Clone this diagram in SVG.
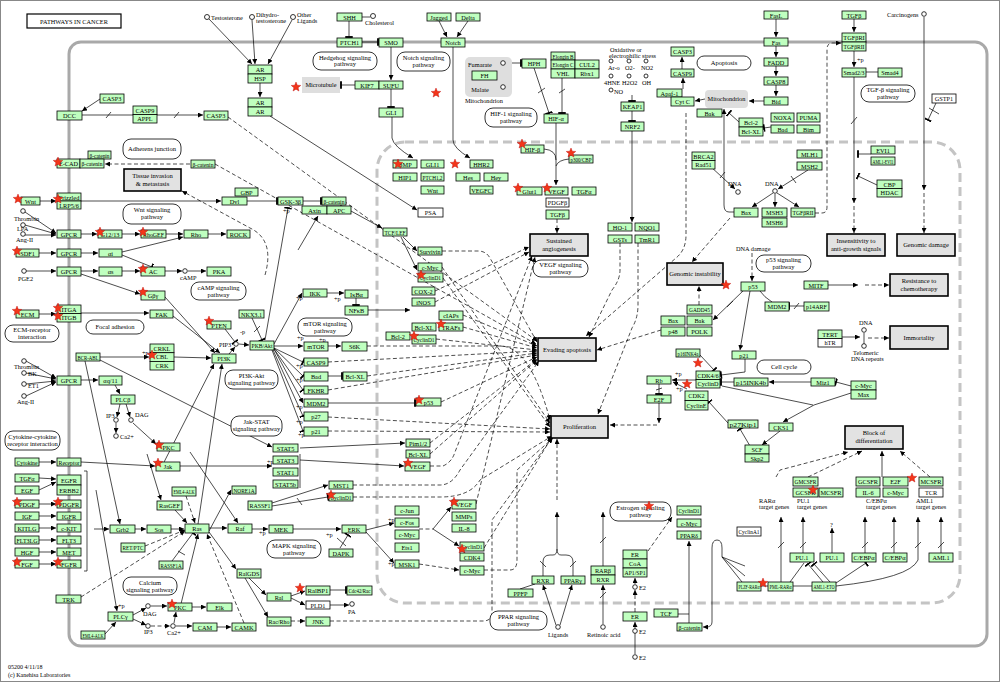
<svg xmlns="http://www.w3.org/2000/svg" width="1000" height="682" viewBox="0 0 1000 682">
<defs>
<marker id="a" viewBox="0 0 10 10" refX="10" refY="5" markerWidth="5" markerHeight="5" markerUnits="userSpaceOnUse" orient="auto"><path d="M0,0L10,5L0,10z" fill="#000"/></marker>
<marker id="t" viewBox="0 0 4 10" refX="3" refY="5" markerWidth="3" markerHeight="7.5" markerUnits="userSpaceOnUse" orient="auto"><path d="M3,0V10" stroke="#000" stroke-width="2.5"/></marker>
<path id="s" d="M0,-5L1.29,-1.78L4.76,-1.55L2.09,0.68L2.94,4.05L0,2.2L-2.94,4.05L-2.09,0.68L-4.76,-1.55L-1.29,-1.78Z" fill="#f2361a" stroke="#b00" stroke-width="0.4"/>
</defs>
<style>
text{font-family:"Liberation Serif","DejaVu Serif",serif;font-size:6.3px;fill:#000}
.n rect{fill:#bfffbf;stroke:#000;stroke-width:0.8}
.w rect{fill:#fff;stroke:#000;stroke-width:0.8}
.n text,.w text,.ph text,.pw text,.gr text{text-anchor:middle}
.ph rect{fill:#e2e2e2;stroke:#000;stroke-width:1.6}
.ph text,.pw text{font-size:6.5px}
.pw rect{fill:#fff;stroke:#000;stroke-width:0.8}
.gr rect{fill:#dedede;stroke:none}
.e path{fill:none;stroke:#000;stroke-width:0.7}
.e .d{stroke-dasharray:4 2.5}
.c{fill:#fff;stroke:#000;stroke-width:0.8}
.lb{font-size:6px}
</style>
<rect x="0" y="0" width="1000" height="682" fill="#fff"/>
<rect x="0.5" y="0.5" width="999" height="681" fill="none" stroke="#888" stroke-width="1"/>
<g id="compartments">
<rect x="69" y="42" width="918" height="604" rx="12" fill="none" stroke="#a9a9a9" stroke-width="3"/>
<rect x="377" y="142" width="583" height="461" rx="28" fill="none" stroke="#c4c4c4" stroke-width="3" stroke-dasharray="9 5"/>
</g>
<g id="title"><rect x="27" y="14" width="94" height="14" fill="#fff" stroke="#000" stroke-width="1.2"/><text x="74" y="24" text-anchor="middle" font-size="7">PATHWAYS IN CANCER</text></g>

<g id="edges" class="e">
<path d="M209,19L252,64" marker-end="url(#a)"/>
<path d="M252,20L255,64" marker-end="url(#a)"/>
<path d="M292,20L268,64" marker-end="url(#a)"/>
<path d="M260,83L260,97" marker-end="url(#a)"/>
<path d="M270,116L417,210" marker-end="url(#a)"/>
<path d="M349,21L349,37" marker-end="url(#t)"/>
<path d="M362,17L370,17"/>
<path d="M362,42L378,42" marker-end="url(#t)"/>
<path d="M391,47L391,80" marker-end="url(#a)"/>
<path d="M391,89L391,107" marker-end="url(#t)"/>
<path d="M355,85L341,85" marker-end="url(#t)"/>
<path d="M392,117L392,138Q393,146 413,158" marker-end="url(#a)"/>
<path d="M439,21L447,37" marker-end="url(#a)"/>
<path d="M468,21L457,37" marker-end="url(#a)"/>
<path d="M453,47L453,140Q453,148 470,158" marker-end="url(#a)"/>
<path d="M505,63L521,63" marker-end="url(#t)"/>
<path d="M503,66L503,84" marker-end="url(#a)"/>
<path d="M534,68L549,113" marker-end="url(#t)"/>
<path d="M538,93L545,88"/>
<path d="M562,78L562,113" marker-end="url(#t)"/>
<path d="M559,93L565,89"/>
<path d="M556,123L556,185" marker-end="url(#a)"/>
<path d="M544,149Q556,150 556,160"/>
<path d="M569,159Q558,160 556,166"/>
<path d="M632,95L632,101" marker-end="url(#t)"/>
<path d="M632,111L632,121" marker-end="url(#t)"/>
<path d="M632,131L632,222" marker-end="url(#a)"/>
<path d="M683,89L683,78" marker-end="url(#a)"/>
<path d="M682,69L682,57" marker-end="url(#a)"/>
<path d="M705,99L695,101" marker-end="url(#a)"/>
<path d="M776,19L776,37" marker-end="url(#a)"/>
<path d="M776,46L776,57" marker-end="url(#a)"/>
<path d="M776,66L776,76" marker-end="url(#a)"/>
<path d="M776,85L776,96" marker-end="url(#a)"/>
<path d="M764,101L749,101" marker-end="url(#a)"/>
<path d="M771,127L764,128" marker-end="url(#t)"/>
<path d="M734,212L729,212Q724,212 724,205L724,109" marker-end="url(#a)"/>
<path d="M739,122L729,113" marker-end="url(#t)"/>
<path d="M854,19L854,32" marker-end="url(#a)"/>
<path d="M854,51L854,67" marker-end="url(#a)"/>
<path d="M866,72L878,72"/>
<path d="M854,77L854,203" marker-end="url(#a)"/>
<path class="d" d="M854,206L854,233" marker-end="url(#a)"/>
<path d="M851,124L857,117"/>
<path d="M871,154L858,154" marker-end="url(#t)"/>
<path d="M877,185L858,176" marker-end="url(#t)"/>
<path d="M924,17L924,190" marker-end="url(#a)"/>
<path class="d" d="M924,193L924,233" marker-end="url(#a)"/>
<path d="M936,103L928,120" marker-end="url(#t)"/>
<path d="M929,108L939,114"/>
<path d="M808,170L778,189" marker-end="url(#a)"/>
<path d="M791,176L796,183"/>
<path d="M773,193L752,207" marker-end="url(#a)"/>
<path d="M775,194L775,207" marker-end="url(#a)"/>
<path d="M777,193L799,207" marker-end="url(#a)"/>
<path d="M710,166L735,189" marker-end="url(#a)"/>
<path d="M720,178L725,172"/>
<path class="d" d="M815,213L822,213Q827,213 827,207L827,49Q827,43 833,43L841,43" marker-end="url(#a)"/>
<path d="M100,99L82,111" marker-end="url(#a)"/>
<path d="M81,115L203,115" marker-end="url(#a)"/>
<path d="M106,118L111,112M174,118L179,112"/>
<path class="d" d="M190,164L105,164" marker-end="url(#a)"/>
<path class="d" d="M228,117L537,341" marker-end="url(#a)"/>
<path class="d" d="M215,164L536,344" marker-end="url(#a)"/>
<path class="d" d="M265,275Q275,240 250,228L182,191" marker-end="url(#a)"/>
<path d="M39,201L56,201" marker-end="url(#a)"/>
<path d="M81,201L221,201" marker-end="url(#a)"/>
<path d="M247,201L277,201" marker-end="url(#t)"/>
<path d="M303,201L321,201" marker-end="url(#t)"/>
<path d="M340,205L382,228" marker-end="url(#a)"/>
<path d="M265,340L288,208" marker-end="url(#t)"/>
<path d="M298,250L318,216" marker-end="url(#a)"/>
<path d="M403,237L417,251" marker-end="url(#a)"/>
<path d="M401,237L417,270" marker-end="url(#a)"/>
<path d="M25,212L56,233" marker-end="url(#a)"/>
<path d="M25,225L56,234" marker-end="url(#a)"/>
<path d="M25,235L56,235" marker-end="url(#a)"/>
<path d="M81,234L97,234" marker-end="url(#a)"/>
<path d="M122,234L140,234" marker-end="url(#a)"/>
<path d="M166,234L183,234" marker-end="url(#a)"/>
<path d="M208,234L226,234" marker-end="url(#a)"/>
<path d="M39,253L56,253" marker-end="url(#a)"/>
<path d="M81,253L98,253" marker-end="url(#a)"/>
<path d="M122,252L183,237" marker-end="url(#a)"/>
<path d="M122,255L152,267" marker-end="url(#t)"/>
<path d="M26,271L56,271" marker-end="url(#a)"/>
<path d="M81,271L98,271" marker-end="url(#a)"/>
<path d="M122,271L140,271" marker-end="url(#a)"/>
<path d="M165,271L182,271" marker-end="url(#a)"/>
<path d="M188,271L206,271" marker-end="url(#a)"/>
<path d="M81,274L140,294" marker-end="url(#a)"/>
<path d="M165,297L215,353" marker-end="url(#a)"/>
<path d="M39,314L56,314" marker-end="url(#a)"/>
<path d="M81,313L149,313" marker-end="url(#a)"/>
<path d="M173,316L220,353" marker-end="url(#a)"/>
<path d="M100,357L149,357" marker-end="url(#a)"/>
<path d="M174,357L211,358" marker-end="url(#a)"/>
<path d="M229,354L235,347" marker-end="url(#a)"/>
<path d="M239,344L249,345" marker-end="url(#a)"/>
<path d="M225,329L235,342" marker-end="url(#t)"/>
<path d="M252,318L262,340" marker-end="url(#t)"/>
<path d="M254,332L260,326"/>
<path d="M274,344L302,293" marker-end="url(#a)"/>
<path d="M327,293L344,293" marker-end="url(#a)"/>
<path d="M356,298L356,305" marker-end="url(#t)"/>
<path d="M368,310L410,310" marker-end="url(#a)"/>
<path d="M274,346L303,346" marker-end="url(#a)"/>
<path d="M328,346L341,346" marker-end="url(#a)"/>
<path d="M274,348L303,362" marker-end="url(#t)"/>
<path d="M274,348L303,376" marker-end="url(#t)"/>
<path d="M274,349L303,390" marker-end="url(#t)"/>
<path d="M274,349L303,403" marker-end="url(#a)"/>
<path d="M273,350L303,416" marker-end="url(#t)"/>
<path d="M272,350L303,431" marker-end="url(#t)"/>
<path d="M328,376L342,376" marker-end="url(#t)"/>
<path d="M328,403L415,403" marker-end="url(#t)"/>
<path d="M26,361L56,378" marker-end="url(#a)"/>
<path d="M26,373L56,379" marker-end="url(#a)"/>
<path d="M26,384L56,381" marker-end="url(#a)"/>
<path d="M26,396L56,382" marker-end="url(#a)"/>
<path d="M81,380L98,380" marker-end="url(#a)"/>
<path d="M115,385L120,394" marker-end="url(#a)"/>
<path d="M120,404L117,417" marker-end="url(#a)"/>
<path d="M126,404L130,417" marker-end="url(#a)"/>
<path d="M116,423L116,433" marker-end="url(#a)"/>
<path d="M133,423L156,444" marker-end="url(#a)"/>
<path d="M85,361L120,524" marker-end="url(#a)"/>
<path d="M100,360L272,447" marker-end="url(#a)"/>
<path d="M39,462L56,462" marker-end="url(#a)"/>
<path d="M81,462L155,466" marker-end="url(#a)"/>
<path d="M180,466L272,466" marker-end="url(#a)"/>
<path d="M39,478L56,479" marker-end="url(#a)"/>
<path d="M39,490L56,482" marker-end="url(#a)"/>
<path d="M39,504L56,504" marker-end="url(#a)"/>
<path d="M39,516L56,516" marker-end="url(#a)"/>
<path d="M39,528L56,528" marker-end="url(#a)"/>
<path d="M39,540L56,540" marker-end="url(#a)"/>
<path d="M39,552L56,552" marker-end="url(#a)"/>
<path d="M39,564L56,564" marker-end="url(#a)"/>
<path d="M84,471L87,471L87,571L84,571"/>
<path d="M94,529L109,529" marker-end="url(#a)"/>
<path d="M96,490L117,611" marker-end="url(#a)"/>
<path d="M135,529L146,529" marker-end="url(#a)"/>
<path d="M171,529L184,529" marker-end="url(#a)"/>
<path d="M209,528L227,528" marker-end="url(#a)"/>
<path d="M252,529L268,529" marker-end="url(#a)"/>
<path d="M293,529L341,529" marker-end="url(#a)"/>
<path d="M366,530L394,523" marker-end="url(#a)"/>
<path d="M366,532L394,563" marker-end="url(#a)"/>
<path d="M340,548L348,535" marker-end="url(#t)"/>
<path d="M337,538L346,546"/>
<path class="d" d="M419,529L433,529"/>
<path d="M433,529L451,507" marker-end="url(#a)"/>
<path d="M433,529L459,546" marker-end="url(#a)"/>
<path class="d" d="M419,564L459,570" marker-end="url(#a)"/>
<path d="M147,454L161,500" marker-end="url(#a)"/>
<path d="M175,510L187,523" marker-end="url(#a)"/>
<path class="d" d="M186,496L195,523" marker-end="url(#a)"/>
<path class="d" d="M145,546L185,530" marker-end="url(#a)"/>
<path d="M172,561L193,533" marker-end="url(#t)"/>
<path d="M178,551L185,555"/>
<path d="M198,524L222,364" marker-end="url(#a)"/>
<path d="M160,470L214,364" marker-end="url(#a)"/>
<path d="M190,452L238,523" marker-end="url(#a)"/>
<path d="M180,608L198,534" marker-end="url(#a)"/>
<path class="d" d="M81,597L185,531" marker-end="url(#a)"/>
<path class="d" d="M244,623L207,534" marker-end="url(#a)"/>
<path d="M209,531L231,490" marker-end="url(#a)"/>
<path d="M133,615L146,608" marker-end="url(#a)"/>
<path d="M133,619L146,625" marker-end="url(#a)"/>
<path d="M151,606L167,606" marker-end="url(#a)"/>
<path class="d" d="M151,626L170,626" marker-end="url(#a)"/>
<path d="M174,623L176,612" marker-end="url(#a)"/>
<path d="M176,626L192,626" marker-end="url(#a)"/>
<path d="M192,607L206,607" marker-end="url(#a)"/>
<path d="M217,627L231,627" marker-end="url(#a)"/>
<path d="M105,634L116,622" marker-end="url(#a)"/>
<path d="M209,532L236,569" marker-end="url(#a)"/>
<path d="M249,578L266,595" marker-end="url(#a)"/>
<path d="M245,578L268,617" marker-end="url(#a)"/>
<path d="M291,596L305,591" marker-end="url(#a)"/>
<path d="M291,598L305,605" marker-end="url(#a)"/>
<path d="M330,590L346,590" marker-end="url(#t)"/>
<path d="M330,605L349,605" marker-end="url(#a)"/>
<path class="d" d="M291,621L305,621" marker-end="url(#a)"/>
<path class="d" d="M330,621L483,621Q492,621 492,612L492,520L552,438" marker-end="url(#a)"/>
<path d="M300,448L405,443" marker-end="url(#a)"/>
<path d="M300,460L404,466" marker-end="url(#a)"/>
<path d="M300,454L300,488"/>
<path d="M272,503L328,485" marker-end="url(#a)"/>
<path d="M272,506L328,497" marker-end="url(#t)"/>
<path d="M297,498L302,505"/>
<path class="d" d="M442,251L478,251Q486,251 490,258L537,342" marker-end="url(#a)"/>
<path class="d" d="M442,267L550,423" marker-end="url(#a)"/>
<path class="d" d="M443,278L550,427" marker-end="url(#a)"/>
<path class="d" d="M435,291L529,247" marker-end="url(#a)"/>
<path class="d" d="M435,302L529,252" marker-end="url(#a)"/>
<path class="d" d="M463,315L537,346" marker-end="url(#a)"/>
<path class="d" d="M463,327L537,348" marker-end="url(#a)"/>
<path class="d" d="M436,339L537,350" marker-end="url(#a)"/>
<path class="d" d="M367,346L500,346Q530,346 550,420" marker-end="url(#a)"/>
<path class="d" d="M328,362L537,351" marker-end="url(#a)"/>
<path class="d" d="M367,376L537,353" marker-end="url(#a)"/>
<path class="d" d="M328,390L537,355" marker-end="url(#a)"/>
<path class="d" d="M441,402L537,357" marker-end="url(#a)"/>
<path class="d" d="M328,417L550,429" marker-end="url(#a)"/>
<path class="d" d="M328,431L550,432" marker-end="url(#a)"/>
<path class="d" d="M430,443L537,359" marker-end="url(#a)"/>
<path class="d" d="M430,454L537,360" marker-end="url(#a)"/>
<path class="d" d="M430,466L443,466Q452,462 455,452L532,256" marker-end="url(#a)"/>
<path class="d" d="M353,485L440,485Q452,485 460,470L539,361" marker-end="url(#a)"/>
<path class="d" d="M353,497L440,497Q470,497 480,480L552,436" marker-end="url(#a)"/>
<path class="d" d="M476,504L535,257" marker-end="url(#a)"/>
<path class="d" d="M484,548L552,437" marker-end="url(#a)"/>
<path class="d" d="M484,570L510,570Q517,570 517,560L517,470L553,438" marker-end="url(#a)"/>
<path d="M543,576L543,562Q543,555 550,555L553,555Q557,555 557,549"/>
<path d="M573,576L573,562Q573,555 566,555L561,555Q557,555 557,549"/>
<path d="M557,549L557,512" marker-end="url(#a)"/>
<path class="d" d="M557,500L557,439" marker-end="url(#a)"/>
<path d="M603,566L603,512" marker-end="url(#a)"/>
<path d="M600,543L606,537M600,598L606,592M540,561L546,567M570,567L576,561"/>
<path d="M603,624L603,585" marker-end="url(#a)"/>
<path d="M556,625L543,585" marker-end="url(#a)"/>
<path d="M560,625L572,585" marker-end="url(#a)"/>
<path d="M520,589L535,584"/>
<path d="M635,654L635,622" marker-end="url(#a)"/>
<path class="d" d="M635,612L635,590" marker-end="url(#a)"/>
<path d="M635,584L635,578" marker-end="url(#a)"/>
<path class="d" d="M648,551L672,517" marker-end="url(#a)"/>
<path d="M678,614L689,614"/>
<path d="M689,623L689,541" marker-end="url(#a)"/>
<path d="M722,557L722,548Q722,540 717,540Q712,540 712,548L712,622Q712,627 706,627L703,627" marker-end="url(#a)"/>
<path d="M722,557L745,566M722,557L745,576M722,557L742,582"/>
<path d="M781,582L781,517" marker-end="url(#a)"/>
<path d="M803,553L803,517" marker-end="url(#a)"/>
<path d="M832,553L832,528" marker-end="url(#a)"/>
<path d="M865,553L865,517" marker-end="url(#a)"/>
<path d="M894,553L894,517" marker-end="url(#a)"/>
<path d="M941,553L941,517" marker-end="url(#a)"/>
<path d="M836,586Q910,578 918,560L918,517" marker-end="url(#a)"/>
<path d="M778,548L784,542M800,548L806,542M862,548L868,542M891,548L897,542M915,548L921,542M938,548L944,542"/>
<path d="M823,582L808,564" marker-end="url(#t)"/>
<path d="M830,582L814,564" marker-end="url(#t)"/>
<path d="M836,583L866,563" marker-end="url(#t)"/>
<path d="M790,582L804,563"/>
<path d="M761,586L812,586"/>
<path class="d" d="M776,477L780,470L848,452" marker-end="url(#a)"/>
<path class="d" d="M808,477L862,451" marker-end="url(#a)"/>
<path d="M882,477L882,451" marker-end="url(#a)"/>
<path class="d" d="M930,477L900,451" marker-end="url(#a)"/>
<path class="d" d="M661,330L597,350" marker-end="url(#a)"/>
<path class="d" d="M620,243L620,270Q620,280 612,290L589,337" marker-end="url(#a)"/>
<path class="d" d="M638,243L638,305Q638,318 632,328L598,414" marker-end="url(#a)"/>
<path class="d" d="M686,113L686,235Q686,250 676,258L586,336" marker-end="url(#a)"/>
<path class="d" d="M730,218L692,262" marker-end="url(#a)"/>
<path class="d" d="M557,219L557,233" marker-end="url(#a)"/>
<path class="d" d="M699,305L699,286" marker-end="url(#a)"/>
<path d="M750,291L740,350" marker-end="url(#a)"/>
<path d="M745,289L713,320" marker-end="url(#a)"/>
<path d="M727,307L733,301"/>
<path d="M760,291Q764,297 772,302"/>
<path d="M804,306L789,306" marker-end="url(#t)"/>
<path d="M794,309L799,303"/>
<path class="d" d="M752,253L752,281" marker-end="url(#a)"/>
<path d="M828,285L858,285" marker-end="url(#a)"/>
<path class="d" d="M865,285L889,285" marker-end="url(#a)"/>
<path d="M842,337L860,337" marker-end="url(#a)"/>
<path d="M864,333L864,344"/>
<path class="d" d="M868,338L889,338" marker-end="url(#a)"/>
<path d="M700,355L714,370" marker-end="url(#t)"/>
<path d="M745,359L745,372L721,375" marker-end="url(#t)"/>
<path d="M696,380L672,380" marker-end="url(#a)"/>
<path d="M687,389L673,382" marker-end="url(#a)"/>
<path d="M659,384L659,394" marker-end="url(#t)"/>
<path d="M656,390L662,388"/>
<path d="M659,403L659,423" marker-end="url(#a)"/>
<path class="d" d="M657,425L610,425" marker-end="url(#a)"/>
<path d="M734,382L721,382" marker-end="url(#t)"/>
<path d="M811,382L769,382" marker-end="url(#a)"/>
<path d="M851,386L836,382" marker-end="url(#t)"/>
<path d="M851,393L814,405L783,422" marker-end="url(#a)"/>
<path d="M722,386L813,405"/>
<path d="M780,431L762,445" marker-end="url(#a)"/>
<path d="M750,446L740,429" marker-end="url(#t)"/>
<path d="M728,423L709,402" marker-end="url(#t)"/>
</g>

<g id="freelabels">
<circle class="c" cx="207" cy="17" r="2.5"/><text x="211" y="20">Testosterone</text>
<circle class="c" cx="252" cy="17" r="2.5"/><text x="256" y="17">Dihydro-</text><text x="256" y="23">testosterone</text>
<circle class="c" cx="293" cy="17" r="2.5"/><text x="297" y="17">Other</text><text x="297" y="23">Ligands</text>
<circle class="c" cx="373" cy="16" r="2.5"/><text x="365" y="25">Cholesterol</text>
<circle class="c" cx="23" cy="211" r="2.3"/><text x="14" y="221">Thrombin</text>
<circle class="c" cx="23" cy="225" r="2.3"/><text x="17" y="231">LPA</text>
<circle class="c" cx="23" cy="234" r="2.3"/><text x="16" y="242">Ang-II</text>
<circle class="c" cx="24" cy="271" r="2.3"/><text x="18" y="281">PGE2</text>
<circle class="c" cx="185" cy="271" r="2.3"/><text x="180" y="280">cAMP</text>
<circle class="c" cx="24" cy="361" r="2.3"/><text x="14" y="369">Thrombin</text>
<circle class="c" cx="24" cy="373" r="2.3"/><text x="28" y="376">BK</text>
<circle class="c" cx="24" cy="384" r="2.3"/><text x="28" y="388">ET1</text>
<circle class="c" cx="24" cy="396" r="2.3"/><text x="17" y="404">Ang-II</text>
<circle class="c" cx="236" cy="344" r="2.3"/><text x="219" y="347">PIP3</text><text x="240" y="334">-p</text>
<circle class="c" cx="116" cy="420" r="2.3"/><text x="106" y="418">IP3</text>
<circle class="c" cx="131" cy="420" r="2.3"/><text x="135" y="417">DAG</text>
<circle class="c" cx="116" cy="436" r="2.3"/><text x="120" y="439">Ca2+</text>
<circle class="c" cx="148" cy="606" r="2.3"/><text x="143" y="616">DAG</text>
<circle class="c" cx="148" cy="626" r="2.3"/><text x="144" y="634">IP3</text>
<circle class="c" cx="173" cy="626" r="2.3"/><text x="167" y="635">Ca2+</text>
<circle class="c" cx="352" cy="604" r="2.3"/><text x="348" y="614">PA</text>
<circle class="c" cx="558" cy="627" r="2.3"/><text x="548" y="637">Ligands</text>
<circle class="c" cx="603" cy="627" r="2.3"/><text x="587" y="637">Retinoic acid</text>
<circle class="c" cx="635" cy="587" r="2.3"/><text x="639" y="590">E2</text>
<circle class="c" cx="635" cy="631" r="2.3"/><text x="639" y="634">E2</text>
<circle class="c" cx="635" cy="657" r="2.3"/><text x="639" y="660">E2</text>
<circle class="c" cx="738" cy="192" r="2.3"/><text x="728" y="186">DNA</text>
<circle class="c" cx="775" cy="191" r="2.3"/><text x="765" y="186">DNA</text>
<circle class="c" cx="864" cy="330" r="2.3"/><text x="859" y="325">DNA</text>
<circle class="c" cx="864" cy="346" r="2.3"/><text x="853" y="355">Telomeric</text><text x="851" y="361">DNA repeats</text>
<text x="736" y="251">DNA damage</text>
<circle class="c" cx="924" cy="14" r="2.3"/><text x="887" y="17">Carcinogens</text>
<text x="610" y="52">Oxidative or</text><text x="609" y="58">electrophilic stress</text>
<circle class="c" cx="611" cy="61" r="2"/><circle class="c" cx="629" cy="61" r="2"/><circle class="c" cx="646" cy="61" r="2"/>
<text x="608" y="70">Ar-o</text><text x="625" y="70">O2-</text><text x="641" y="70">NO2</text>
<circle class="c" cx="611" cy="76" r="2"/><circle class="c" cx="629" cy="76" r="2"/><circle class="c" cx="646" cy="76" r="2"/>
<text x="604" y="85">4HNE</text><text x="622" y="85">H2O2</text><text x="642" y="85">OH</text>
<circle class="c" cx="611" cy="90" r="2"/><text x="614" y="94">NO</text>
<text x="465" y="103">Mitochondrion</text>
<text x="759" y="503">RARα</text><text x="759" y="509">target genes</text>
<text x="797" y="503">PU.1</text><text x="797" y="509">target genes</text>
<text x="830" y="527">?</text>
<text x="866" y="503">C/EBPα</text><text x="866" y="509">target genes</text>
<text x="916" y="503">AML1</text><text x="916" y="509">target genes</text>
<text x="857" y="62">+p</text><text x="283" y="213">+p</text><text x="296" y="300">+p</text><text x="297" y="340">+p</text><text x="319" y="342">+p</text>
<text x="296" y="368">+p</text><text x="296" y="382">+p</text><text x="296" y="409">+p</text><text x="296" y="424">+p</text><text x="298" y="437">+p</text><text x="334" y="301">+p</text>
<text x="142" y="355">+p</text><text x="259" y="535">+p</text><text x="326" y="537">+p</text><text x="388" y="522">+p</text><text x="388" y="566">+p</text>
<text x="675" y="376">+p</text><text x="676" y="391">+p</text><text x="267" y="464">+p</text><text x="118" y="608">+p</text>
<text x="8" y="669" class="lb">05200 4/11/18</text>
<text x="8" y="677" class="lb">(c) Kanehisa Laboratories</text>
</g>

<g id="mito_fum" class="gr"><rect x="465" y="57" width="47" height="40" rx="5"/><text x="480" y="67">Fumarate</text><text x="480" y="92">Malate</text><circle class="c" cx="503" cy="63" r="2.3"/><circle class="c" cx="503" cy="87" r="2.3"/></g>
<g id="FH" class="n"><rect x="472" y="71" width="25" height="9"/><text x="484.5" y="78">FH</text></g>
<g id="microtubule" class="gr"><rect x="302" y="77" width="38" height="16"/><text x="321" y="87">Microtubule</text><use href="#s" x="296" y="87"/></g>
<g id="mitochondrion" class="gr"><rect x="705" y="90" width="43" height="18" rx="4"/><text x="726.5" y="101">Mitochondrion</text></g>

<g id="pathways" class="pw">
<g id="pw_adherens"><rect x="123" y="139" width="58" height="20" rx="8"/><text x="152" y="151">Adherens junction</text></g>
<g id="pw_wnt"><rect x="123" y="204" width="58" height="20" rx="8"/><text x="152" y="212">Wnt signaling</text><text x="152" y="219">pathway</text></g>
<g id="pw_hedgehog"><rect x="313" y="52" width="64" height="18" rx="8"/><text x="345" y="60">Hedgehog signaling</text><text x="345" y="66">pathway</text></g>
<g id="pw_notch"><rect x="397" y="52" width="53" height="19" rx="8"/><text x="423.5" y="60">Notch signaling</text><text x="423.5" y="67">pathway</text></g>
<g id="pw_hif"><rect x="485" y="108" width="52" height="19" rx="8"/><text x="511" y="116">HIF-1 signaling</text><text x="511" y="123">pathway</text></g>
<g id="pw_apoptosis"><rect x="697" y="56" width="54" height="14" rx="7"/><text x="724" y="65">Apoptosis</text></g>
<g id="pw_tgfb"><rect x="861" y="85" width="54" height="17" rx="8"/><text x="888" y="92">TGF-β signaling</text><text x="888" y="99">pathway</text></g>
<g id="pw_camp"><rect x="191" y="282" width="55" height="18" rx="8"/><text x="218.5" y="290">cAMP signaling</text><text x="218.5" y="297">pathway</text></g>
<g id="pw_ecm"><rect x="5" y="325" width="54" height="17" rx="8"/><text x="32" y="332">ECM-receptor</text><text x="32" y="339">interaction</text></g>
<g id="pw_focal"><rect x="86" y="320" width="58" height="14" rx="7"/><text x="115" y="329">Focal adhesion</text></g>
<g id="pw_mtor"><rect x="298" y="318" width="54" height="18" rx="8"/><text x="325" y="326">mTOR signaling</text><text x="325" y="333">pathway</text></g>
<g id="pw_pi3k"><rect x="225" y="370" width="53" height="19" rx="8"/><text x="251.5" y="378">PI3K-Akt</text><text x="251.5" y="385">signaling pathway</text></g>
<g id="pw_jak"><rect x="231" y="416" width="51" height="20" rx="8"/><text x="256.5" y="424">Jak-STAT</text><text x="256.5" y="431">signaling pathway</text></g>
<g id="pw_cytokine"><rect x="5" y="431" width="55" height="19" rx="8"/><text x="32.5" y="439">Cytokine-cytokine</text><text x="32.5" y="446">receptor interaction</text></g>
<g id="pw_vegf"><rect x="533" y="260" width="55" height="17" rx="8"/><text x="560.5" y="267">VEGF signaling</text><text x="560.5" y="274">pathway</text></g>
<g id="pw_p53"><rect x="756" y="255" width="55" height="17" rx="8"/><text x="783.5" y="262">p53 signaling</text><text x="783.5" y="269">pathway</text></g>
<g id="pw_cellcycle"><rect x="757" y="360" width="54" height="14" rx="7"/><text x="784" y="369">Cell cycle</text></g>
<g id="pw_mapk"><rect x="267" y="540" width="54" height="18" rx="8"/><text x="294" y="548">MAPK signaling</text><text x="294" y="555">pathway</text></g>
<g id="pw_calcium"><rect x="123" y="577" width="54" height="18" rx="8"/><text x="150" y="585">Calcium</text><text x="150" y="592">signaling pathway</text></g>
<g id="pw_estrogen"><rect x="610" y="502" width="61" height="19" rx="8"/><text x="640.5" y="510">Estrogen signaling</text><text x="640.5" y="517">pathway</text><use href="#s" x="649" y="506"/></g>
<g id="pw_ppar"><rect x="490" y="611" width="57" height="19" rx="8"/><text x="518.5" y="619">PPAR signaling</text><text x="518.5" y="626">pathway</text></g>
</g>

<g id="phenotypes" class="ph">
<g id="ph_tissue"><rect x="124" y="169" width="57" height="22"/><text x="152.5" y="178">Tissue invasion</text><text x="152.5" y="186">&amp; metastasis</text></g>
<g id="ph_angio"><rect x="530" y="234" width="58" height="22"/><text x="559" y="243">Sustained</text><text x="559" y="251">angiogenesis</text></g>
<g id="ph_evading"><rect x="538" y="338" width="58" height="23"/><text x="567" y="352">Evading apoptosis</text></g>
<g id="ph_prolif"><rect x="551" y="416" width="57" height="22"/><text x="579.5" y="429">Proliferation</text></g>
<g id="ph_genomic_inst"><rect x="667" y="263" width="56" height="22"/><text x="695" y="276">Genomic instability</text><use href="#s" x="726" y="285"/></g>
<g id="ph_insens"><rect x="827" y="234" width="58" height="22"/><text x="856" y="243">Insensitivity to</text><text x="856" y="251">anti-growth signals</text></g>
<g id="ph_genomic_dmg"><rect x="897" y="234" width="58" height="22"/><text x="926" y="247">Genomic damage</text></g>
<g id="ph_resist"><rect x="890" y="274" width="58" height="22"/><text x="919" y="283">Resistance to</text><text x="919" y="291">chemotherapy</text></g>
<g id="ph_immortal"><rect x="890" y="326" width="58" height="23"/><text x="919" y="340">Immortality</text></g>
<g id="ph_block"><rect x="845" y="426" width="58" height="23"/><text x="874" y="435">Block of</text><text x="874" y="443">differentiation</text></g>
</g>

<g id="nodes">
<g id="CASP3_a" class="n"><rect x="100" y="94" width="24" height="9"/><text x="112" y="101">CASP3</text></g>
<g id="DCC" class="n"><rect x="57" y="111" width="25" height="9"/><text x="69.5" y="118">DCC</text></g>
<g id="CASP9_APPL" class="n"><rect x="133" y="106" width="24" height="8.5"/><rect x="133" y="114.5" width="24" height="8.5"/><text x="145" y="112.5">CASP9</text><text x="145" y="121">APPL</text></g>
<g id="CASP3_b" class="n"><rect x="204" y="111" width="24" height="9"/><text x="216" y="118">CASP3</text></g>
<g id="bcat_a" class="n"><rect x="88" y="151" width="23" height="8"/><text x="99.5" y="157.5" textLength="20" lengthAdjust="spacingAndGlyphs">β-catenin</text></g>
<g id="ECAD" class="n"><rect x="57" y="159" width="23" height="9"/><text x="68.5" y="166">E-CAD</text><use href="#s" x="58" y="162"/></g>
<g id="bcat_b" class="n"><rect x="80" y="159" width="24" height="9"/><text x="92" y="166" textLength="21" lengthAdjust="spacingAndGlyphs">β-catenin</text></g>
<g id="bcat_c" class="n"><rect x="191" y="160" width="24" height="8"/><text x="203" y="166.5" textLength="21" lengthAdjust="spacingAndGlyphs">β-catenin</text></g>
<g id="Wnt_a" class="n"><rect x="21" y="197" width="19" height="8"/><text x="30.5" y="203.5">Wnt</text><use href="#s" x="18" y="199"/></g>
<g id="Frizzled" class="n"><rect x="57" y="193" width="24" height="8"/><rect x="57" y="201" width="24" height="8"/><text x="69" y="199.5">Frizzled</text><text x="69" y="207.5">LRP5/6</text><use href="#s" x="58" y="199"/></g>
<g id="Dvl" class="n"><rect x="222" y="197" width="25" height="8"/><text x="234.5" y="203.5">Dvl</text></g>
<g id="GBP" class="n"><rect x="235" y="188" width="23" height="8"/><text x="246.5" y="194.5">GBP</text></g>
<g id="GSK3b" class="n"><rect x="278" y="197" width="25" height="8"/><text x="290.5" y="203.5">GSK-3β</text></g>
<g id="bcat_d" class="n"><rect x="322" y="197" width="24" height="8"/><text x="334" y="203.5" textLength="21" lengthAdjust="spacingAndGlyphs">β-catenin</text></g>
<g id="Axin_APC" class="n"><rect x="302" y="206" width="25" height="8"/><rect x="327" y="206" width="24" height="8"/><text x="314.5" y="212.5">Axin</text><text x="339" y="212.5">APC</text></g>
<g id="AR_HSP" class="n"><rect x="248" y="65" width="24" height="9"/><rect x="248" y="74" width="24" height="9"/><text x="260" y="72">AR</text><text x="260" y="81">HSP</text></g>
<g id="AR_AR" class="n"><rect x="248" y="98" width="24" height="9"/><rect x="248" y="107" width="24" height="9"/><text x="260" y="105">AR</text><text x="260" y="114">AR</text></g>
<g id="SHH" class="n"><rect x="337" y="13" width="25" height="8"/><text x="349.5" y="19.5">SHH</text></g>
<g id="PTCH1" class="n"><rect x="337" y="38" width="25" height="9"/><text x="349.5" y="45">PTCH1</text></g>
<g id="SMO" class="n"><rect x="379" y="38" width="24" height="9"/><text x="391" y="45">SMO</text></g>
<g id="KIF7_SUFU" class="n"><rect x="355" y="81" width="24" height="8"/><rect x="379" y="81" width="24" height="8"/><text x="367" y="87.5">KIF7</text><text x="391" y="87.5">SUFU</text></g>
<g id="GLI" class="n"><rect x="379" y="108" width="24" height="9"/><text x="391" y="115">GLI</text></g>
<use href="#s" x="436" y="93"/>
<g id="Jagged" class="n"><rect x="427" y="13" width="24" height="8"/><text x="439" y="19.5">Jagged</text></g>
<g id="Delta" class="n"><rect x="456" y="13" width="24" height="8"/><text x="468" y="19.5">Delta</text></g>
<g id="Notch" class="n"><rect x="441" y="38" width="24" height="9"/><text x="453" y="45">Notch</text></g>
<g id="HPH" class="n"><rect x="522" y="59" width="24" height="9"/><text x="534" y="66">HPH</text></g>
<g id="VHL_complex" class="n"><rect x="551" y="52" width="24" height="8"/><rect x="551" y="60" width="24" height="9"/><rect x="575" y="60" width="24" height="9"/><rect x="551" y="69" width="24" height="9"/><rect x="575" y="69" width="24" height="9"/><text x="563" y="58.5" textLength="21" lengthAdjust="spacingAndGlyphs">Elongin B</text><text x="563" y="67" textLength="21" lengthAdjust="spacingAndGlyphs">Elongin C</text><text x="587" y="67">CUL2</text><text x="563" y="76">VHL</text><text x="587" y="76">Rbx1</text></g>
<g id="HIFa" class="n"><rect x="544" y="114" width="24" height="9"/><text x="556" y="121">HIF-α</text></g>
<g id="KEAP1" class="n"><rect x="621" y="102" width="23" height="9"/><text x="632.5" y="109">KEAP1</text></g>
<g id="NRF2" class="n"><rect x="621" y="122" width="23" height="9"/><text x="632.5" y="129">NRF2</text></g>
<g id="CASP3_c" class="n"><rect x="671" y="47" width="23" height="9"/><text x="682.5" y="54">CASP3</text></g>
<g id="CASP9_b" class="n"><rect x="671" y="69" width="23" height="8"/><text x="682.5" y="75.5">CASP9</text></g>
<g id="Apaf1_CytC" class="n"><rect x="657" y="89" width="25" height="8"/><rect x="671" y="97" width="23" height="9"/><text x="669.5" y="95.5">Apaf-1</text><text x="682.5" y="104">Cyt C</text></g>
<g id="Bak_a" class="n"><rect x="697" y="109" width="25" height="8"/><text x="709.5" y="115.5">Bak</text></g>
<g id="Bcl2_a" class="n"><rect x="739" y="118" width="24" height="9"/><rect x="739" y="127" width="24" height="9"/><text x="751" y="125">Bcl-2</text><text x="751" y="134">Bcl-XL</text></g>
<g id="FasL" class="n"><rect x="764" y="11" width="24" height="8"/><text x="776" y="17.5">FasL</text></g>
<g id="Fas" class="n"><rect x="764" y="38" width="24" height="8"/><text x="776" y="44.5">Fas</text></g>
<g id="FADD" class="n"><rect x="764" y="58" width="24" height="8"/><text x="776" y="64.5">FADD</text></g>
<g id="CASP8" class="n"><rect x="764" y="77" width="24" height="8"/><text x="776" y="83.5">CASP8</text></g>
<g id="Bid" class="n"><rect x="764" y="97" width="24" height="8"/><text x="776" y="103.5">Bid</text></g>
<g id="BH3" class="n"><rect x="771" y="113" width="23" height="9"/><rect x="797" y="113" width="23" height="9"/><rect x="771" y="125" width="23" height="8"/><rect x="797" y="125" width="23" height="8"/><text x="782.5" y="120">NOXA</text><text x="808.5" y="120">PUMA</text><text x="782.5" y="131.5">Bad</text><text x="808.5" y="131.5">Bim</text></g>
<g id="TGFb_a" class="n"><rect x="842" y="11" width="24" height="8"/><text x="854" y="17.5">TGFβ</text></g>
<g id="TGFbR" class="n"><rect x="842" y="33" width="24" height="9"/><rect x="842" y="42" width="24" height="9"/><text x="854" y="40">TGFβRI</text><text x="854" y="49" textLength="21" lengthAdjust="spacingAndGlyphs">TGFβRII</text></g>
<g id="Smad23" class="n"><rect x="842" y="68" width="24" height="9"/><text x="854" y="75" textLength="21" lengthAdjust="spacingAndGlyphs">Smad2/3</text></g>
<g id="Smad4" class="n"><rect x="878" y="68" width="24" height="9"/><text x="890" y="75">Smad4</text></g>
<g id="GSTP1" class="w"><rect x="932" y="94" width="24" height="9"/><text x="944" y="101">GSTP1</text></g>
<g id="GPCR_a" class="n"><rect x="57" y="230" width="24" height="8"/><text x="69" y="236.5">GPCR</text></g>
<g id="G1213" class="n"><rect x="98" y="230" width="24" height="8"/><text x="110" y="236.5">G12/13</text><use href="#s" x="100" y="232"/></g>
<g id="RhoGEF" class="n"><rect x="141" y="230" width="25" height="8"/><text x="153.5" y="236.5" textLength="21" lengthAdjust="spacingAndGlyphs">RhoGEF</text><use href="#s" x="143" y="232"/></g>
<g id="Rho" class="n"><rect x="184" y="230" width="24" height="8"/><text x="196" y="236.5">Rho</text></g>
<g id="ROCK" class="n"><rect x="227" y="230" width="23" height="8"/><text x="238.5" y="236.5">ROCK</text></g>
<g id="SDF1" class="n"><rect x="16" y="249" width="23" height="8"/><text x="27.5" y="255.5">SDF1</text><use href="#s" x="17" y="251"/></g>
<g id="GPCR_b" class="n"><rect x="57" y="249" width="24" height="8"/><text x="69" y="255.5">GPCR</text></g>
<g id="ai" class="n"><rect x="99" y="249" width="23" height="8"/><text x="110.5" y="255.5">αi</text></g>
<g id="GPCR_c" class="n"><rect x="57" y="267" width="24" height="9"/><text x="69" y="274">GPCR</text></g>
<g id="as" class="n"><rect x="99" y="267" width="23" height="9"/><text x="110.5" y="274">αs</text></g>
<g id="AC" class="n"><rect x="141" y="267" width="24" height="9"/><text x="153" y="274">AC</text><use href="#s" x="143" y="269"/></g>
<g id="PKA" class="n"><rect x="207" y="267" width="24" height="9"/><text x="219" y="274">PKA</text></g>
<g id="Gbg" class="n"><rect x="141" y="291" width="24" height="9"/><text x="153" y="298">Gβγ</text><use href="#s" x="143" y="292"/></g>
<g id="ECM" class="n"><rect x="16" y="310" width="23" height="8"/><text x="27.5" y="316.5">ECM</text><use href="#s" x="17" y="311"/></g>
<g id="ITG" class="n"><rect x="57" y="305" width="24" height="8.5"/><rect x="57" y="313.5" width="24" height="8.5"/><text x="69" y="311.5">ITGA</text><text x="69" y="320">ITGB</text><use href="#s" x="58" y="308"/><use href="#s" x="58" y="316"/></g>
<g id="FAK" class="n"><rect x="150" y="310" width="23" height="8"/><text x="161.5" y="316.5">FAK</text></g>
<g id="PTEN" class="n"><rect x="207" y="321" width="24" height="8"/><text x="219" y="327.5">PTEN</text><use href="#s" x="209" y="321"/></g>
<g id="NKX31" class="n"><rect x="239" y="310" width="25" height="8"/><text x="251.5" y="316.5" textLength="21" lengthAdjust="spacingAndGlyphs">NKX3.1</text></g>
<g id="BCRABL" class="n"><rect x="76" y="353" width="24" height="8"/><text x="88" y="359.5" textLength="21" lengthAdjust="spacingAndGlyphs">BCR-ABL</text></g>
<g id="CRKL" class="n"><rect x="150" y="344" width="24" height="8.7"/><rect x="150" y="352.7" width="24" height="8.7"/><rect x="150" y="361.4" width="24" height="8.6"/><text x="162" y="350.5">CRKL</text><text x="162" y="359">CBL</text><text x="162" y="368">CRK</text><use href="#s" x="152" y="355"/></g>
<g id="PI3K" class="n"><rect x="212" y="354" width="24" height="9"/><text x="224" y="361">PI3K</text></g>
<g id="GPCR_d" class="n"><rect x="57" y="376" width="24" height="9"/><text x="69" y="383">GPCR</text></g>
<g id="aq11" class="n"><rect x="99" y="376" width="23" height="9"/><text x="110.5" y="383">αq/11</text></g>
<g id="PLCb" class="n"><rect x="111" y="395" width="24" height="9"/><text x="123" y="402">PLCβ</text></g>
<g id="PKC_a" class="n"><rect x="157" y="443" width="23" height="8"/><text x="168.5" y="449.5">PKC</text><use href="#s" x="159" y="445"/></g>
<g id="PKBAkt" class="n"><rect x="250" y="341" width="24" height="9"/><text x="262" y="348" textLength="21" lengthAdjust="spacingAndGlyphs">PKB/Akt</text></g>
<g id="IKK" class="n"><rect x="303" y="289" width="24" height="8"/><text x="315" y="295.5">IKK</text></g>
<g id="IkBa" class="n"><rect x="345" y="290" width="23" height="8"/><text x="356.5" y="296.5">IκBα</text></g>
<g id="NFkB" class="n"><rect x="345" y="306" width="23" height="9"/><text x="356.5" y="313">NFκB</text></g>
<g id="mTOR" class="n"><rect x="304" y="342" width="24" height="9"/><text x="316" y="349">mTOR</text></g>
<g id="S6K" class="n"><rect x="342" y="342" width="25" height="9"/><text x="354.5" y="349">S6K</text></g>
<g id="CASP9_c" class="n"><rect x="304" y="358" width="24" height="8"/><text x="316" y="364.5">CASP9</text></g>
<g id="Bad_b" class="n"><rect x="304" y="372" width="24" height="9"/><text x="316" y="379">Bad</text></g>
<g id="BclXL_b" class="n"><rect x="343" y="372" width="24" height="9"/><text x="355" y="379">Bcl-XL</text></g>
<g id="FKHR" class="n"><rect x="304" y="386" width="24" height="8"/><text x="316" y="392.5">FKHR</text></g>
<g id="MDM2_a" class="n"><rect x="304" y="399" width="24" height="8"/><text x="316" y="405.5">MDM2</text></g>
<g id="p27_a" class="n"><rect x="304" y="412" width="24" height="9"/><text x="316" y="419">p27</text></g>
<g id="p21_a" class="n"><rect x="304" y="427" width="24" height="9"/><text x="316" y="434">p21</text></g>
<g id="STAT5" class="n"><rect x="273" y="444" width="25" height="8"/><text x="285.5" y="450.5">STAT5</text></g>
<g id="STAT3" class="n"><rect x="273" y="456" width="25" height="8"/><text x="285.5" y="462.5">STAT3</text></g>
<g id="STAT1" class="n"><rect x="273" y="468" width="25" height="8"/><text x="285.5" y="474.5">STAT1</text></g>
<g id="STAT5b" class="n"><rect x="273" y="480" width="25" height="8"/><text x="285.5" y="486.5" textLength="21" lengthAdjust="spacingAndGlyphs">STAT5b</text></g>
<g id="Cytokine" class="n"><rect x="15" y="458" width="24" height="8"/><text x="27" y="464.5" textLength="21" lengthAdjust="spacingAndGlyphs">Cytokine</text></g>
<g id="Receptor" class="n"><rect x="57" y="458" width="24" height="8"/><text x="69" y="464.5" textLength="21" lengthAdjust="spacingAndGlyphs">Receptor</text></g>
<g id="Jak" class="n"><rect x="156" y="462" width="24" height="9"/><text x="168" y="469">Jak</text><use href="#s" x="158" y="463"/></g>
<g id="TGFa_a" class="n"><rect x="15" y="474" width="24" height="8"/><text x="27" y="480.5">TGFα</text></g>
<g id="EGF" class="n"><rect x="15" y="486" width="24" height="8"/><text x="27" y="492.5">EGF</text></g>
<g id="EGFR" class="n"><rect x="57" y="475" width="24" height="10"/><rect x="57" y="485" width="24" height="10"/><text x="69" y="482.5">EGFR</text><text x="69" y="492.5">ERBB2</text></g>
<g id="PDGF" class="n"><rect x="15" y="500" width="24" height="8"/><text x="27" y="506.5">PDGF</text><use href="#s" x="17" y="502"/></g>
<g id="PDGFR" class="n"><rect x="57" y="500" width="24" height="8"/><text x="69" y="506.5">PDGFR</text><use href="#s" x="58" y="502"/></g>
<g id="IGF" class="n"><rect x="15" y="512" width="24" height="8"/><text x="27" y="518.5">IGF</text></g>
<g id="IGFR" class="n"><rect x="57" y="512" width="24" height="8"/><text x="69" y="518.5">IGFR</text></g>
<g id="KITLG" class="n"><rect x="15" y="524" width="24" height="8"/><text x="27" y="530.5">KITLG</text></g>
<g id="cKIT" class="n"><rect x="57" y="524" width="24" height="8"/><text x="69" y="530.5">c-KIT</text></g>
<g id="FLT3LG" class="n"><rect x="15" y="536" width="24" height="8"/><text x="27" y="542.5" textLength="21" lengthAdjust="spacingAndGlyphs">FLT3LG</text></g>
<g id="FLT3" class="n"><rect x="57" y="536" width="24" height="8"/><text x="69" y="542.5">FLT3</text></g>
<g id="HGF" class="n"><rect x="15" y="548" width="24" height="8"/><text x="27" y="554.5">HGF</text></g>
<g id="MET" class="n"><rect x="57" y="548" width="24" height="8"/><text x="69" y="554.5">MET</text></g>
<g id="FGF" class="n"><rect x="15" y="560" width="24" height="8"/><text x="27" y="566.5">FGF</text><use href="#s" x="17" y="562"/></g>
<g id="FGFR" class="n"><rect x="57" y="560" width="24" height="8"/><text x="69" y="566.5">FGFR</text><use href="#s" x="58" y="562"/></g>
<g id="EML4ALK_a" class="n"><rect x="172" y="487" width="24" height="9"/><text x="184" y="494" textLength="21" lengthAdjust="spacingAndGlyphs">EML4-ALK</text></g>
<g id="RasGEF" class="n"><rect x="157" y="501" width="25" height="9"/><text x="169.5" y="508" textLength="21" lengthAdjust="spacingAndGlyphs">RasGEF</text></g>
<g id="NORE1A" class="n"><rect x="232" y="486" width="24" height="8"/><text x="244" y="492.5" textLength="21" lengthAdjust="spacingAndGlyphs">NORE1A</text></g>
<g id="Grb2" class="n"><rect x="110" y="525" width="25" height="8"/><text x="122.5" y="531.5">Grb2</text></g>
<g id="Sos" class="n"><rect x="147" y="525" width="24" height="8"/><text x="159" y="531.5">Sos</text></g>
<g id="Ras" class="n"><rect x="185" y="524" width="24" height="9"/><text x="197" y="531">Ras</text></g>
<g id="Raf" class="n"><rect x="228" y="524" width="24" height="9"/><text x="240" y="531">Raf</text></g>
<g id="RETPTC" class="n"><rect x="121" y="543" width="24" height="9"/><text x="133" y="550" textLength="21" lengthAdjust="spacingAndGlyphs">RET/PTC</text></g>
<g id="RASSF1A" class="n"><rect x="159" y="561" width="24" height="8"/><text x="171" y="567.5" textLength="21" lengthAdjust="spacingAndGlyphs">RASSF1A</text></g>
<g id="RalGDS" class="n"><rect x="237" y="569" width="24" height="9"/><text x="249" y="576" textLength="21" lengthAdjust="spacingAndGlyphs">RalGDS</text></g>
<g id="TRK" class="n"><rect x="56" y="595" width="25" height="8"/><text x="68.5" y="601.5">TRK</text></g>
<g id="PLCg" class="n"><rect x="108" y="612" width="25" height="9"/><text x="120.5" y="619">PLCγ</text></g>
<g id="PKC_b" class="n"><rect x="168" y="603" width="24" height="8"/><text x="180" y="609.5">PKC</text><use href="#s" x="172" y="604"/></g>
<g id="Elk" class="n"><rect x="207" y="603" width="25" height="8"/><text x="219.5" y="609.5">Elk</text></g>
<g id="CAM" class="n"><rect x="193" y="623" width="24" height="8"/><text x="205" y="629.5">CAM</text></g>
<g id="CAMK" class="n"><rect x="232" y="623" width="24" height="8"/><text x="244" y="629.5">CAMK</text></g>
<g id="EML4ALK_b" class="n"><rect x="81" y="631" width="24" height="8"/><text x="93" y="637.5" textLength="21" lengthAdjust="spacingAndGlyphs">EML4-ALK</text></g>
<g id="RASSF1" class="n"><rect x="248" y="501" width="24" height="9"/><text x="260" y="508" textLength="21" lengthAdjust="spacingAndGlyphs">RASSF1</text></g>
<g id="MST1" class="n"><rect x="329" y="481" width="24" height="8"/><text x="341" y="487.5">MST1</text></g>
<g id="CyclinD1_e" class="n"><rect x="329" y="493" width="24" height="8"/><text x="341" y="499.5" textLength="21" lengthAdjust="spacingAndGlyphs">CyclinD1</text><use href="#s" x="331" y="495"/></g>
<g id="MEK" class="n"><rect x="269" y="525" width="24" height="8"/><text x="281" y="531.5">MEK</text></g>
<g id="ERK" class="n"><rect x="342" y="525" width="24" height="8"/><text x="354" y="531.5">ERK</text></g>
<g id="DAPK" class="n"><rect x="329" y="549" width="24" height="8"/><text x="341" y="555.5">DAPK</text></g>
<g id="Ral" class="n"><rect x="267" y="593" width="24" height="8"/><text x="279" y="599.5">Ral</text></g>
<g id="RalBP1" class="n"><rect x="306" y="586" width="24" height="9"/><text x="318" y="593" textLength="21" lengthAdjust="spacingAndGlyphs">RalBP1</text><use href="#s" x="300" y="588"/></g>
<g id="Cdc42Rac" class="n"><rect x="347" y="586" width="25" height="9"/><text x="359.5" y="593" textLength="22" lengthAdjust="spacingAndGlyphs">Cdc42/Rac</text></g>
<g id="PLD1" class="w"><rect x="306" y="601" width="24" height="8"/><text x="318" y="607.5">PLD1</text></g>
<g id="RacRho" class="n"><rect x="267" y="617" width="24" height="9"/><text x="279" y="624" textLength="21" lengthAdjust="spacingAndGlyphs">Rac/Rho</text></g>
<g id="JNK" class="n"><rect x="306" y="617" width="24" height="9"/><text x="318" y="624">JNK</text></g>
<g id="TCFLEF" class="n"><rect x="383" y="228" width="24" height="8"/><text x="395" y="234.5" textLength="21" lengthAdjust="spacingAndGlyphs">TCF/LEF</text></g>
<g id="Survivin" class="n"><rect x="418" y="247" width="24" height="8"/><text x="430" y="253.5" textLength="21" lengthAdjust="spacingAndGlyphs">Survivin</text></g>
<g id="cMyc_a" class="n"><rect x="418" y="263" width="24" height="8"/><text x="430" y="269.5">c-Myc</text></g>
<g id="CyclinD1_a" class="n"><rect x="418" y="273" width="25" height="9"/><text x="430.5" y="280" textLength="21" lengthAdjust="spacingAndGlyphs">CyclinD1</text><use href="#s" x="421" y="275"/></g>
<g id="COX2" class="n"><rect x="412" y="287" width="23" height="8"/><text x="423.5" y="293.5">COX-2</text></g>
<g id="iNOS" class="n"><rect x="412" y="298" width="23" height="8"/><text x="423.5" y="304.5">iNOS</text></g>
<g id="cIAPs" class="n"><rect x="439" y="311" width="24" height="9"/><text x="451" y="318">cIAPs</text></g>
<g id="BclXL_c" class="n"><rect x="412" y="323" width="24" height="8"/><text x="424" y="329.5">Bcl-XL</text></g>
<g id="TRAFs" class="n"><rect x="439" y="323" width="24" height="8"/><text x="451" y="329.5">TRAFs</text><use href="#s" x="441" y="324"/></g>
<g id="Bcl2_c" class="n"><rect x="386" y="332" width="24" height="8"/><text x="398" y="338.5">Bcl-2</text></g>
<g id="CyclinD1_b" class="n"><rect x="412" y="335" width="24" height="9"/><text x="424" y="342" textLength="21" lengthAdjust="spacingAndGlyphs">CyclinD1</text><use href="#s" x="414" y="336"/></g>
<g id="p53_a" class="n"><rect x="416" y="398" width="25" height="8"/><text x="428.5" y="404.5">p53</text><use href="#s" x="419" y="400"/></g>
<g id="Pim12" class="n"><rect x="406" y="439" width="24" height="8"/><text x="418" y="445.5">Pim1/2</text></g>
<g id="BclXL_d" class="n"><rect x="406" y="450" width="24" height="8"/><text x="418" y="456.5">Bcl-XL</text></g>
<g id="VEGF_c" class="n"><rect x="405" y="462" width="25" height="9"/><text x="417.5" y="469">VEGF</text><use href="#s" x="408" y="463"/></g>
<g id="cJun" class="n"><rect x="395" y="506" width="24" height="9"/><text x="407" y="513">c-Jun</text></g>
<g id="cFos" class="n"><rect x="395" y="518" width="24" height="9"/><text x="407" y="525">c-Fos</text></g>
<g id="cMyc_b" class="n"><rect x="395" y="530" width="24" height="9"/><text x="407" y="537">c-Myc</text></g>
<g id="Ets1" class="n"><rect x="395" y="543" width="24" height="9"/><text x="407" y="550">Ets1</text></g>
<g id="MSK1" class="n"><rect x="395" y="560" width="24" height="8"/><text x="407" y="566.5">MSK1</text></g>
<g id="VEGF_d" class="n"><rect x="452" y="500" width="24" height="9"/><text x="464" y="507">VEGF</text><use href="#s" x="454" y="502"/></g>
<g id="MMPs" class="n"><rect x="452" y="512" width="24" height="9"/><text x="464" y="519">MMPs</text></g>
<g id="IL8" class="n"><rect x="452" y="524" width="24" height="8"/><text x="464" y="530.5">IL-8</text></g>
<g id="CyclinD1_c" class="n"><rect x="460" y="542" width="24" height="9"/><text x="472" y="549" textLength="21" lengthAdjust="spacingAndGlyphs">CyclinD1</text><use href="#s" x="462" y="549"/></g>
<g id="CDK4" class="n"><rect x="460" y="553" width="24" height="8"/><text x="472" y="559.5">CDK4</text></g>
<g id="cMyc_c" class="n"><rect x="460" y="566" width="24" height="9"/><text x="472" y="573">c-Myc</text></g>
<g id="BMP" class="n"><rect x="393" y="160" width="24" height="8"/><text x="405" y="166.5">BMP</text><use href="#s" x="398" y="164"/></g>
<g id="GLI1" class="n"><rect x="421" y="160" width="23" height="8"/><text x="432.5" y="166.5">GLI1</text></g>
<use href="#s" x="455" y="164"/>
<g id="HHR2" class="n"><rect x="470" y="160" width="23" height="8"/><text x="481.5" y="166.5">HHR2</text></g>
<g id="HIP1" class="n"><rect x="393" y="173" width="24" height="8"/><text x="405" y="179.5">HIP1</text></g>
<g id="PTCH12" class="n"><rect x="421" y="173" width="23" height="8"/><text x="432.5" y="179.5" textLength="20" lengthAdjust="spacingAndGlyphs">PTCH1,2</text></g>
<g id="Hes" class="n"><rect x="456" y="173" width="24" height="8"/><text x="468" y="179.5">Hes</text></g>
<g id="Hey" class="n"><rect x="484" y="173" width="24" height="8"/><text x="496" y="179.5">Hey</text></g>
<g id="Wnt_b" class="n"><rect x="421" y="186" width="23" height="8"/><text x="432.5" y="192.5">Wnt</text></g>
<g id="VEGFC" class="n"><rect x="470" y="186" width="23" height="8"/><text x="481.5" y="192.5">VEGFC</text></g>
<g id="PSA" class="w"><rect x="418" y="208" width="25" height="9"/><text x="430.5" y="215">PSA</text></g>
<g id="HIFb" class="n"><rect x="521" y="145" width="23" height="8"/><text x="532.5" y="151.5">HIF-β</text><use href="#s" x="522" y="144"/></g>
<g id="p300CBP" class="n"><rect x="569" y="155" width="24" height="8"/><text x="581" y="161.5" textLength="21" lengthAdjust="spacingAndGlyphs">p300/CBP</text><use href="#s" x="571" y="153"/></g>
<g id="Glut1" class="n"><rect x="517" y="187" width="25" height="8"/><text x="529.5" y="193.5">Glut1</text><use href="#s" x="518" y="188"/></g>
<g id="VEGF_a" class="n"><rect x="545" y="187" width="23" height="8"/><text x="556.5" y="193.5">VEGF</text><use href="#s" x="547" y="188"/></g>
<g id="TGFa_b" class="n"><rect x="572" y="187" width="24" height="8"/><text x="584" y="193.5">TGFα</text></g>
<g id="PDGFb" class="w"><rect x="546" y="198" width="23" height="9"/><text x="557.5" y="205">PDGFβ</text></g>
<g id="TGFb_b" class="n"><rect x="546" y="210" width="23" height="9"/><text x="557.5" y="217">TGFβ</text></g>
<g id="HO1_NQO1" class="n"><rect x="608" y="223" width="24" height="8"/><rect x="635" y="223" width="24" height="8"/><text x="620" y="229.5">HO-1</text><text x="647" y="229.5">NQO1</text></g>
<g id="GSTs_TmR1" class="n"><rect x="608" y="235" width="24" height="8"/><rect x="635" y="235" width="24" height="8"/><text x="620" y="241.5">GSTs</text><text x="647" y="241.5">TmR1</text></g>
<g id="BRCA2" class="n"><rect x="692" y="152" width="23" height="8.5"/><rect x="692" y="160.5" width="23" height="8.5"/><text x="703.5" y="158.5">BRCA2</text><text x="703.5" y="167">Rad51</text></g>
<g id="MLH1" class="n"><rect x="797" y="150" width="25" height="8"/><text x="809.5" y="156.5">MLH1</text></g>
<g id="MSH2" class="n"><rect x="797" y="162" width="25" height="8"/><text x="809.5" y="168.5">MSH2</text></g>
<g id="Bax_a" class="n"><rect x="734" y="208" width="24" height="9"/><text x="746" y="215">Bax</text></g>
<g id="MSH3" class="n"><rect x="762" y="208" width="25" height="9"/><rect x="762" y="218" width="25" height="9"/><text x="774.5" y="215">MSH3</text><text x="774.5" y="225">MSH6</text></g>
<g id="TGFbRII_b" class="n"><rect x="791" y="208" width="24" height="9"/><text x="803" y="215" textLength="21" lengthAdjust="spacingAndGlyphs">TGFβRII</text></g>
<g id="EVI1" class="n"><rect x="871" y="146" width="24" height="8"/><text x="883" y="152.5">EVI1</text></g>
<g id="AML1EVI1" class="n"><rect x="871" y="157" width="24" height="8"/><text x="883" y="163.5" textLength="21" lengthAdjust="spacingAndGlyphs">AML1-EVI1</text></g>
<g id="CBP_HDAC" class="n"><rect x="877" y="180" width="25" height="8.5"/><rect x="877" y="188.5" width="25" height="8.5"/><text x="889.5" y="186.5">CBP</text><text x="889.5" y="195">HDAC</text></g>
<g id="GADD45" class="n"><rect x="687" y="305" width="25" height="9"/><text x="699.5" y="312" textLength="21" lengthAdjust="spacingAndGlyphs">GADD45</text></g>
<g id="Bax_b" class="n"><rect x="661" y="316" width="24" height="9"/><text x="673" y="323">Bax</text></g>
<g id="Bak_b" class="n"><rect x="687" y="316" width="25" height="9"/><text x="699.5" y="323">Bak</text></g>
<g id="p48" class="n"><rect x="661" y="327" width="24" height="9"/><text x="673" y="334">p48</text></g>
<g id="POLK" class="n"><rect x="687" y="327" width="25" height="9"/><text x="699.5" y="334">POLK</text></g>
<g id="p53_b" class="n"><rect x="741" y="282" width="24" height="9"/><text x="753" y="289">p53</text></g>
<g id="MDM2_b" class="n"><rect x="765" y="302" width="24" height="9"/><text x="777" y="309">MDM2</text></g>
<g id="p14ARF" class="n"><rect x="804" y="302" width="25" height="9"/><text x="816.5" y="309" textLength="21" lengthAdjust="spacingAndGlyphs">p14ARF</text></g>
<g id="MITF" class="n"><rect x="804" y="281" width="24" height="8"/><text x="816" y="287.5">MITF</text></g>
<g id="TERT" class="n"><rect x="818" y="330" width="24" height="8.5"/><text x="830" y="336.5">TERT</text></g>
<g id="hTR" class="w"><rect x="818" y="338.5" width="24" height="8.5"/><text x="830" y="345">hTR</text></g>
<g id="p16" class="n"><rect x="676" y="349" width="24" height="8"/><text x="688" y="355.5" textLength="21" lengthAdjust="spacingAndGlyphs">p16INK4a</text></g>
<use href="#s" x="698" y="363"/>
<g id="p21_b" class="n"><rect x="732" y="351" width="24" height="8"/><text x="744" y="357.5">p21</text></g>
<g id="CDK46" class="n"><rect x="696" y="371" width="24" height="8.5"/><rect x="696" y="379.5" width="24" height="8.5"/><text x="708" y="377.5">CDK4/6</text><text x="708" y="386" textLength="21" lengthAdjust="spacingAndGlyphs">CyclinD</text></g>
<use href="#s" x="687" y="384"/>
<g id="Rb" class="n"><rect x="647" y="376" width="24" height="8"/><text x="659" y="382.5">Rb</text></g>
<g id="E2F_a" class="n"><rect x="647" y="395" width="24" height="8"/><text x="659" y="401.5">E2F</text></g>
<g id="CDK2" class="n"><rect x="685" y="391" width="23" height="9.5"/><rect x="685" y="400.5" width="23" height="9.5"/><text x="696.5" y="398">CDK2</text><text x="696.5" y="407.5" textLength="20" lengthAdjust="spacingAndGlyphs">CyclinE</text></g>
<g id="p15" class="n"><rect x="734" y="378" width="34" height="8"/><text x="751" y="384.5" textLength="30" lengthAdjust="spacingAndGlyphs">p15INK4b</text></g>
<g id="Miz1" class="n"><rect x="811" y="378" width="24" height="8"/><text x="823" y="384.5">Miz1</text></g>
<g id="cMycMax" class="n"><rect x="851" y="381" width="25" height="9"/><rect x="851" y="390" width="25" height="9"/><text x="863.5" y="388">c-Myc</text><text x="863.5" y="397">Max</text></g>
<g id="p27Kip1" class="n"><rect x="728" y="420" width="30" height="8"/><text x="743" y="426.5" textLength="27" lengthAdjust="spacingAndGlyphs">p27Kip1</text></g>
<g id="CKS1" class="n"><rect x="769" y="423" width="24" height="8"/><text x="781" y="429.5">CKS1</text></g>
<g id="SCF_Skp2" class="n"><rect x="745" y="445" width="24" height="9"/><rect x="745" y="454" width="24" height="8"/><text x="757" y="452">SCF</text><text x="757" y="460.5">Skp2</text></g>
<g id="CyclinD1_d" class="n"><rect x="677" y="506" width="24" height="9"/><text x="689" y="513" textLength="21" lengthAdjust="spacingAndGlyphs">CyclinD1</text></g>
<g id="cMyc_d" class="n"><rect x="677" y="519" width="24" height="8"/><text x="689" y="525.5">c-Myc</text></g>
<g id="PPARd" class="n"><rect x="677" y="531" width="24" height="8"/><text x="689" y="537.5">PPARδ</text></g>
<g id="CyclinA1" class="w"><rect x="737" y="527" width="24" height="9"/><text x="749" y="534" textLength="21" lengthAdjust="spacingAndGlyphs">CyclinA1</text></g>
<g id="RXR_a" class="n"><rect x="532" y="576" width="22" height="8"/><text x="543" y="582.5">RXR</text></g>
<g id="PPARg" class="n"><rect x="561" y="576" width="24" height="8"/><text x="573" y="582.5">PPARγ</text></g>
<g id="PPFP" class="n"><rect x="508" y="589" width="25" height="8"/><text x="520.5" y="595.5">PPFP</text></g>
<g id="RARb_RXR" class="n"><rect x="591" y="566" width="24" height="9"/><rect x="591" y="575" width="24" height="9"/><text x="603" y="573">RARβ</text><text x="603" y="582">RXR</text></g>
<g id="ER_complex" class="n"><rect x="623" y="550" width="24" height="9"/><rect x="623" y="559" width="24" height="9"/><rect x="623" y="568" width="24" height="9"/><text x="635" y="557">ER</text><text x="635" y="566">CoA</text><text x="635" y="575" textLength="21" lengthAdjust="spacingAndGlyphs">AP1/SP1</text></g>
<g id="ER_b" class="n"><rect x="623" y="612" width="24" height="9"/><text x="635" y="619">ER</text></g>
<g id="TCF" class="n"><rect x="654" y="609" width="24" height="8"/><text x="666" y="615.5">TCF</text></g>
<g id="bcat_e" class="n"><rect x="677" y="623" width="25" height="8"/><text x="689.5" y="629.5" textLength="22" lengthAdjust="spacingAndGlyphs">β-catenin</text></g>
<g id="GMCSFR" class="n"><rect x="793" y="477" width="25" height="9"/><text x="805.5" y="484" textLength="22" lengthAdjust="spacingAndGlyphs">GMCSFR</text></g>
<g id="GCSFR_a" class="n"><rect x="793" y="488" width="25" height="9"/><text x="805.5" y="495">GCSFR</text><use href="#s" x="813" y="490"/></g>
<g id="MCSFR_a" class="n"><rect x="819" y="488" width="24" height="9"/><text x="831" y="495" textLength="21" lengthAdjust="spacingAndGlyphs">MCSFR</text></g>
<g id="GCSFR_b" class="n"><rect x="856" y="477" width="24" height="9"/><text x="868" y="484">GCSFR</text></g>
<g id="E2F_b" class="n"><rect x="883" y="477" width="25" height="9"/><text x="895.5" y="484">E2F</text></g>
<use href="#s" x="912" y="478"/>
<g id="MCSFR_b" class="n"><rect x="919" y="477" width="24" height="9"/><text x="931" y="484" textLength="21" lengthAdjust="spacingAndGlyphs">MCSFR</text></g>
<g id="IL6" class="n"><rect x="856" y="488" width="24" height="9"/><text x="868" y="495">IL-6</text></g>
<g id="cMyc_e" class="n"><rect x="883" y="488" width="25" height="9"/><text x="895.5" y="495">c-Myc</text></g>
<g id="TCR" class="w"><rect x="919" y="488" width="24" height="9"/><text x="931" y="495">TCR</text></g>
<g id="PU1_a" class="n"><rect x="790" y="553" width="24" height="9"/><text x="802" y="560">PU.1</text></g>
<g id="PU1_b" class="n"><rect x="820" y="553" width="24" height="9"/><text x="832" y="560">PU.1</text></g>
<g id="CEBPa_a" class="n"><rect x="852" y="553" width="24" height="9"/><text x="864" y="560" textLength="21" lengthAdjust="spacingAndGlyphs">C/EBPα</text></g>
<g id="CEBPa_b" class="n"><rect x="883" y="553" width="24" height="9"/><text x="895" y="560" textLength="21" lengthAdjust="spacingAndGlyphs">C/EBPα</text></g>
<g id="AML1" class="n"><rect x="929" y="553" width="24" height="9"/><text x="941" y="560">AML1</text></g>
<g id="PLZFRARa" class="n"><rect x="737" y="582" width="24" height="9"/><text x="749" y="589" textLength="21" lengthAdjust="spacingAndGlyphs">PLZF-RARα</text><use href="#s" x="763" y="583"/></g>
<g id="PMLRARa" class="n"><rect x="768" y="582" width="25" height="9"/><text x="780.5" y="589" textLength="22" lengthAdjust="spacingAndGlyphs">PML-RARα</text></g>
<g id="AML1ETO" class="n"><rect x="812" y="582" width="24" height="9"/><text x="824" y="589" textLength="21" lengthAdjust="spacingAndGlyphs">AML1-ETO</text></g>
</g>
</svg>
